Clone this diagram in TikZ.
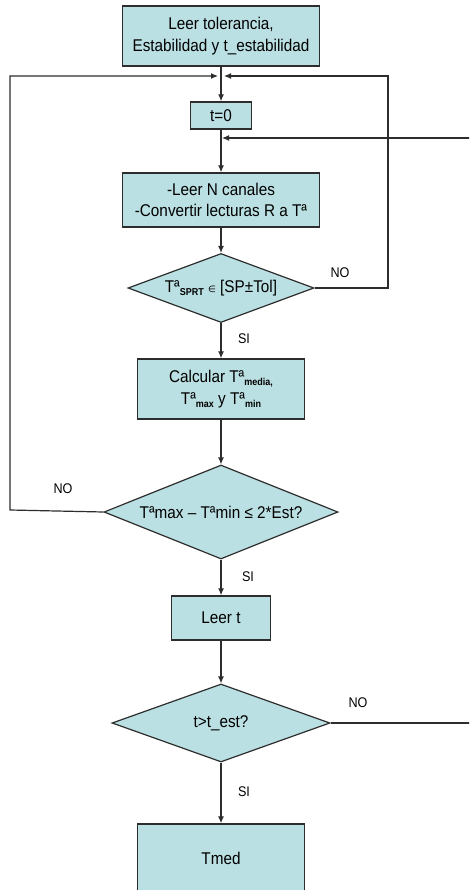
\documentclass[tikz,border=0pt]{standalone}
\usepackage{fontspec}
\setmainfont{Liberation Sans}[FakeStretch=0.9]
\newfontfamily\symfnt{DejaVu Sans}
\usetikzlibrary{shapes.geometric,arrows.meta}
\definecolor{boxfill}{RGB}{187,224,227}
\definecolor{edgecol}{RGB}{45,45,45}
\tikzset{
  procbox/.style={draw=edgecol,line width=1.4pt,fill=boxfill,rectangle,inner sep=0pt,align=center,
    font=\fontsize{17}{21.5}\selectfont},
  decbox/.style={draw=edgecol,line width=1.2pt,fill=boxfill,diamond,inner sep=0pt,align=center,
    font=\fontsize{17}{21.5}\selectfont},
  conn/.style={draw=edgecol,line width=1.2pt},
  arr/.style={conn,-{Latex[length=7pt,width=6pt]}},
  lbl/.style={font=\fontsize{14}{16}\selectfont,inner sep=0pt},
}
\newcommand{\subx}[1]{\raisebox{-0.35ex}{\fontsize{10}{10}\selectfont\bfseries #1}}
\begin{document}
\begin{tikzpicture}[x=1pt,y=-1pt]
\clip (0,0) rectangle (469,890);
\fill[white] (0,0) rectangle (469,890);
% nodes
\node[procbox,minimum width=197pt,minimum height=60pt] (b1) at (221,36) {Leer tolerancia,\\Estabilidad y t\_estabilidad};
\node[procbox,minimum width=61pt,minimum height=27pt] (t0) at (221,115.5) {t=0};
\node[procbox,minimum width=197pt,minimum height=54pt] (b3) at (221,200) {-Leer N canales\\-Convertir lecturas R a Tª};
\node[decbox,minimum width=186pt,minimum height=69pt,shape aspect=2.7] (d1) at (221,288) {Tª\subx{SPRT} {\symfnt\fontsize{9}{9}\selectfont ∈} [SP±Tol]};
\node[procbox,minimum width=167pt,minimum height=60pt] (b4) at (221,389) {Calcular Tª\subx{media,}\\Tª\subx{max} y Tª\subx{min}};
\node[decbox,minimum width=234pt,minimum height=94pt,shape aspect=2.5] (d2) at (221,512) {Tªmax – Tªmin ≤ 2*Est?};
\node[procbox,minimum width=99pt,minimum height=44pt] (b5) at (221,618) {Leer t};
\node[decbox,minimum width=218pt,minimum height=78pt,shape aspect=2.8] (d3) at (221,723) {t>t\_est?};
\node[procbox,minimum width=167pt,minimum height=68pt] (b6) at (221,858) {Tmed};
% junction coordinates
\coordinate (jl) at (218,76);
\coordinate (jr) at (224,76);
\coordinate (lc) at (10,510);
\coordinate (ltop) at (10,76);
\coordinate (rc) at (388,288);
\coordinate (rtop) at (388,76);
\coordinate (fr) at (480,723);
\coordinate (ftop) at (480,138);
\coordinate (fin) at (222,138);
% connectors
\draw[arr] (b1.south) -- (t0.north);
\draw[arr] (t0.south) -- (b3.north);
\draw[arr] (b3.south) -- (d1.north);
\draw[arr] (d1.south) -- (b4.north);
\draw[arr] (b4.south) -- (d2.north);
\draw[arr] (d2.south) -- (b5.north);
\draw[arr] (b5.south) -- (d3.north);
\draw[arr] (d3.south) -- (b6.north);
\draw[arr] (d2.west) -- (lc) -- (ltop) -- (jl);
\draw[arr] (d1.east) -- (rc) -- (rtop) -- (jr);
\draw[arr] (d3.east) -- (fr) -- (ftop) -- (fin);
% labels
\node[lbl] (no1) at (340,273) {NO};
\node[lbl] (si1) at (244,339) {SI};
\node[lbl] (no2) at (63,489) {NO};
\node[lbl] (si2) at (248,577) {SI};
\node[lbl] (no3) at (358,703) {NO};
\node[lbl] (si3) at (244,792) {SI};
\end{tikzpicture}
\end{document}
